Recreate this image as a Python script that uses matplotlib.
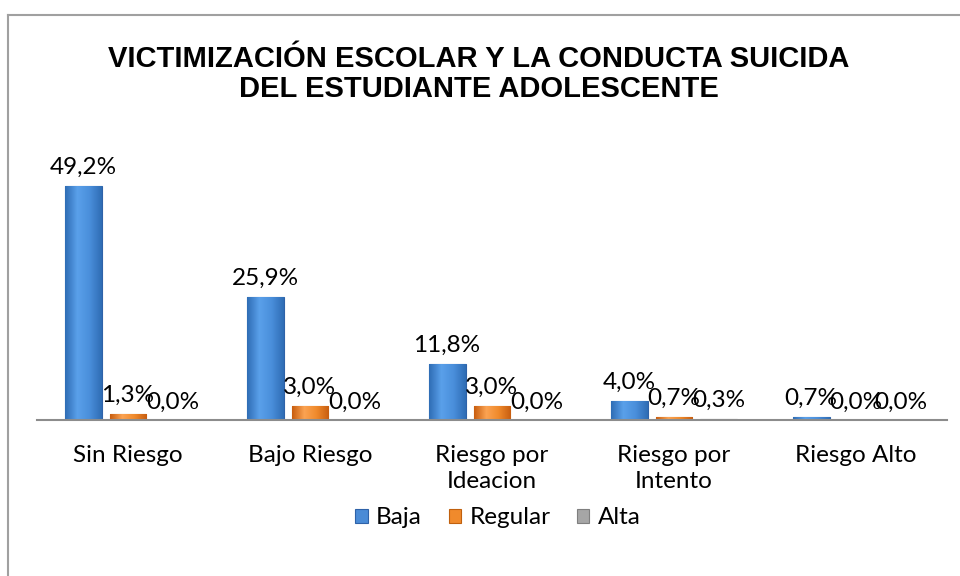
import numpy as np
import matplotlib
matplotlib.use("Agg")
from matplotlib import pyplot as plt
from matplotlib.lines import Line2D
from matplotlib.colors import LinearSegmentedColormap

categories = ["Sin Riesgo", "Bajo Riesgo", "Riesgo por\nIdeacion", "Riesgo por\nIntento", "Riesgo Alto"]
series_names = ["Baja", "Regular", "Alta"]
baja = [49.2, 25.9, 11.8, 4.0, 0.7]
regular = [1.3, 3.0, 3.0, 0.7, 0.0]
alta = [0.0, 0.0, 0.0, 0.3, 0.0]

colors = ["#4A8BD6", "#F08A2C", "#A6A6A6"]
edges = ["#2E62A8", "#C0600E", "#7F7F7F"]
# degradado tipo bisel: borde oscuro, centro claro
grads = [["#2F6DB5", "#5AA0EA", "#4A8FDB", "#2F6DB5"],
         ["#C85E10", "#FBA352", "#F08A2C", "#C85E10"],
         ["#8A8A8A", "#C4C4C4", "#AFAFAF", "#8A8A8A"]]

plt.rcParams['font.family'] = ['Lato', 'DejaVu Sans']
fs = 17.5

fig = plt.figure(figsize=(9.6, 5.76), dpi=100)
ax = fig.add_axes([37 / 960, 156 / 576, 910 / 960, 285.6 / 576])

x = np.arange(len(categories))
width = 0.203
offset = 0.247
grad = np.linspace(0, 1, 64).reshape(1, -1)

for i, vals in enumerate([baja, regular, alta]):
    pos = x + (i - 1) * offset
    cmap = LinearSegmentedColormap.from_list("g%d" % i, grads[i])
    bars = ax.bar(pos, vals, width, color=colors[i], edgecolor=edges[i],
                  linewidth=0.8, label=series_names[i], zorder=2)
    for b in bars:
        if b.get_height() <= 0:
            continue
        bx, by = b.get_x(), b.get_y()
        im = ax.imshow(grad, cmap=cmap, aspect="auto", zorder=2.5,
                       extent=[bx, bx + b.get_width(), by, by + b.get_height()])
        im.set_clip_path(b)
    for xp, v in zip(pos, vals):
        ax.annotate(f"{v:.1f}%".replace(".", ","), (xp, v), xytext=(0, 5.5),
                    textcoords="offset points", ha="center", va="bottom",
                    fontsize=fs, color="#000000")

ax.set_xlim(-0.5, len(categories) - 0.5)
ax.set_ylim(0, 60)
ax.set_yticks([])
ax.set_xticks(x)
ax.set_xticklabels(categories, fontsize=fs, linespacing=1.3)
ax.tick_params(axis="x", length=0, pad=18)
for s in ["top", "right", "left"]:
    ax.spines[s].set_visible(False)
ax.spines["bottom"].set_color("#8C8C8C")
ax.spines["bottom"].set_linewidth(1.5)
ax.spines["bottom"].set_zorder(3)
ax.patch.set_alpha(0)

fig.text(0.499, 1 - 74 / 576, "VICTIMIZACIÓN ESCOLAR Y LA CONDUCTA SUICIDA\nDEL ESTUDIANTE ADOLESCENTE",
         ha="center", va="center", fontsize=21, fontweight="bold",
         family="Liberation Sans", linespacing=1.12)

leg = fig.legend(loc="center", bbox_to_anchor=(498 / 960, (576 - 518) / 576),
                 ncol=3, frameon=False, fontsize=fs, handlelength=0.5, handleheight=0.5,
                 handletextpad=0.35, columnspacing=1.1)

# marco del grafico (solo arriba e izquierda visibles)
fig.add_artist(Line2D([8 / 960, 8 / 960], [0, 1 - 15 / 576], color="#A0A0A0", lw=1.5))
fig.add_artist(Line2D([8 / 960, 1], [1 - 15 / 576, 1 - 15 / 576], color="#A0A0A0", lw=1.5))

fig.savefig("out.png", dpi=100)
